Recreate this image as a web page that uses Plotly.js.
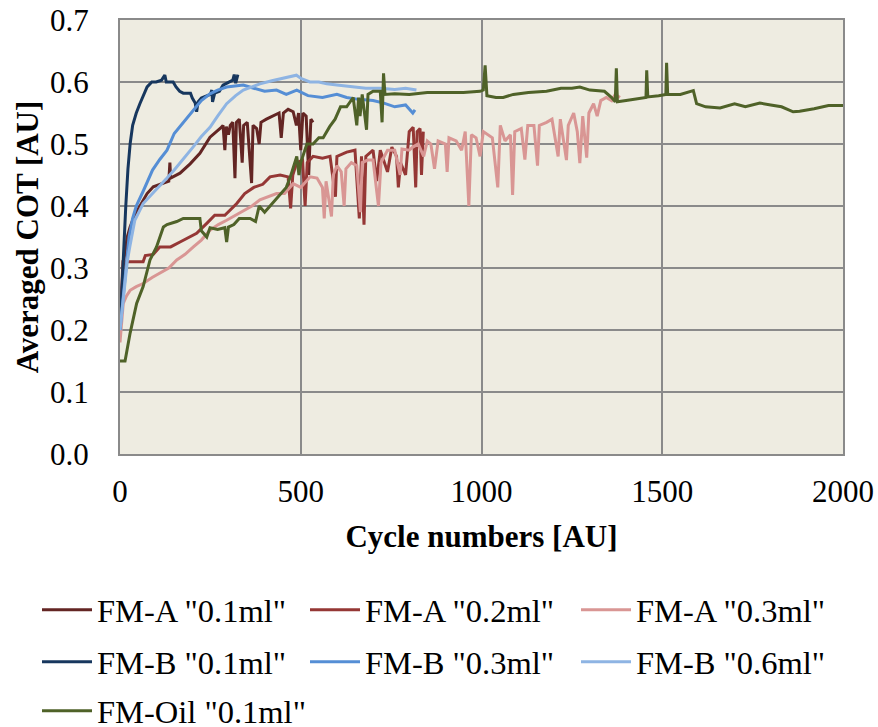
<!DOCTYPE html>
<html>
<head>
<meta charset="utf-8">
<script src="https://cdn.plot.ly/plotly-3.0.1.min.js"></script>
<style>html,body{margin:0;padding:0;background:#fff}#chart{width:878px;height:727px}</style>
</head>
<body>
<div id="chart"></div>
<script>
// ---- data ----
const seriesNames = ['FM-A "0.1ml"', 'FM-A "0.2ml"', 'FM-A "0.3ml"', 'FM-B "0.1ml"', 'FM-B "0.3ml"', 'FM-B "0.6ml"', 'FM-Oil "0.1ml"'];

const fmA01_x = [0,5,10,20,28,40,55,75,92,120,135,138,140,166,180,194,221,249,277,285,290,294,300,305,312,318,322,330,338,342,352,364,368,378,385,390,405,424,440,446,452,465,479,488,494,500,506,515,522,528,534];
const fmA01_y = [0.20,0.26,0.31,0.35,0.366,0.385,0.40,0.42,0.431,0.437,0.44,0.47,0.445,0.453,0.46,0.468,0.485,0.511,0.525,0.53,0.49,0.528,0.515,0.53,0.535,0.445,0.535,0.54,0.47,0.53,0.535,0.437,0.53,0.525,0.50,0.535,0.54,0.545,0.55,0.51,0.55,0.556,0.552,0.53,0.55,0.49,0.55,0.545,0.45,0.54,0.535];

const fmA02_x = [0,8,28,64,70,92,110,140,166,194,212,240,262,290,323,345,370,395,415,443,465,472,478,489,505,512,518,534,560,581,596,600,627,650,662,668,675,680,700,710,720,740,752,765,770,776,790,800,811,818,822,830,834,839];
const fmA02_y = [0.20,0.31,0.31,0.31,0.32,0.322,0.334,0.334,0.342,0.35,0.356,0.372,0.385,0.385,0.404,0.42,0.43,0.435,0.447,0.45,0.447,0.396,0.45,0.47,0.474,0.40,0.47,0.48,0.477,0.48,0.415,0.48,0.487,0.49,0.38,0.48,0.37,0.48,0.49,0.44,0.49,0.455,0.495,0.48,0.43,0.47,0.45,0.52,0.527,0.43,0.52,0.525,0.45,0.52];

const fmA03_x = [0,5,9,18,28,45,64,90,110,135,157,180,203,225,249,272,295,320,341,365,387,410,433,455,479,500,526,545,560,565,570,585,590,600,612,620,625,640,655,665,670,685,700,715,722,740,760,775,780,800,810,825,840,850,860,870,880,900,905,910,930,945,955,965,972,985,996,1005,1030,1045,1052,1065,1080,1086,1092,1110,1120,1128,1145,1155,1160,1180,1195,1212,1218,1235,1240,1255,1265,1272,1280,1291,1297,1310,1320,1330,1345,1360,1370,1383];
const fmA03_y = [0.18,0.22,0.243,0.255,0.264,0.27,0.275,0.285,0.292,0.30,0.313,0.322,0.334,0.345,0.361,0.37,0.377,0.385,0.393,0.40,0.41,0.415,0.42,0.42,0.436,0.43,0.447,0.445,0.43,0.38,0.44,0.383,0.45,0.465,0.455,0.40,0.46,0.47,0.465,0.39,0.47,0.474,0.474,0.40,0.47,0.49,0.49,0.45,0.492,0.49,0.495,0.50,0.48,0.505,0.50,0.46,0.505,0.50,0.455,0.51,0.505,0.49,0.52,0.40,0.515,0.51,0.48,0.52,0.51,0.43,0.53,0.505,0.515,0.418,0.52,0.525,0.475,0.53,0.53,0.465,0.53,0.535,0.54,0.48,0.54,0.474,0.53,0.55,0.52,0.469,0.545,0.478,0.55,0.565,0.545,0.57,0.575,0.57,0.58,0.575];

const fmB01_x = [0,5,10,16,22,28,35,45,55,65,75,88,100,115,124,128,147,155,165,175,195,200,208,212,216,225,240,250,254,256,262,275,285,295,305,312,316,320,326];
const fmB01_y = [0.20,0.27,0.34,0.40,0.46,0.50,0.53,0.55,0.565,0.58,0.592,0.600,0.600,0.603,0.611,0.600,0.600,0.592,0.585,0.582,0.582,0.574,0.566,0.552,0.568,0.574,0.577,0.580,0.587,0.568,0.582,0.585,0.595,0.598,0.600,0.603,0.612,0.598,0.612];

const fmB03_x = [0,8,15,25,35,45,65,90,110,130,150,175,202,225,249,270,295,341,370,400,433,460,489,520,560,600,627,660,700,730,760,790,810,816];
const fmB03_y = [0.20,0.25,0.30,0.35,0.38,0.40,0.425,0.458,0.475,0.490,0.517,0.535,0.554,0.570,0.581,0.587,0.592,0.595,0.590,0.585,0.587,0.580,0.587,0.578,0.575,0.580,0.575,0.572,0.570,0.566,0.560,0.563,0.550,0.555];

const fmB06_x = [0,10,20,27,41,64,90,110,130,150,175,202,225,249,270,295,320,341,365,387,420,442,470,488,500,525,550,572,600,640,680,720,760,790,820];
const fmB06_y = [0.20,0.26,0.31,0.334,0.377,0.404,0.42,0.431,0.445,0.458,0.475,0.495,0.512,0.527,0.545,0.565,0.578,0.587,0.592,0.597,0.602,0.605,0.608,0.611,0.606,0.600,0.600,0.597,0.595,0.593,0.590,0.590,0.588,0.590,0.587];

const fmOil_x = [0,14,28,46,64,83,101,120,130,157,175,200,221,225,240,249,270,290,295,300,315,330,360,375,385,400,415,430,443,460,470,489,495,500,517,534,550,562,580,595,610,627,645,655,660,664,670,682,686,700,720,725,729,733,760,800,850,900,950,996,1005,1010,1015,1040,1060,1088,1130,1180,1220,1250,1272,1300,1340,1360,1370,1373,1376,1400,1430,1455,1457,1460,1490,1510,1512,1515,1550,1586,1595,1620,1660,1700,1730,1770,1800,1830,1862,1880,1920,1960,2000];
const fmOil_y = [0.15,0.15,0.195,0.243,0.27,0.313,0.334,0.366,0.37,0.375,0.38,0.38,0.38,0.36,0.35,0.365,0.362,0.365,0.342,0.366,0.37,0.38,0.38,0.375,0.40,0.39,0.40,0.41,0.42,0.43,0.445,0.48,0.45,0.47,0.50,0.50,0.51,0.51,0.528,0.54,0.56,0.56,0.575,0.53,0.575,0.545,0.58,0.523,0.58,0.585,0.585,0.535,0.614,0.58,0.581,0.580,0.583,0.583,0.583,0.585,0.587,0.627,0.578,0.575,0.575,0.58,0.583,0.585,0.59,0.59,0.592,0.587,0.585,0.575,0.568,0.622,0.568,0.57,0.573,0.575,0.619,0.576,0.578,0.58,0.631,0.58,0.58,0.586,0.565,0.56,0.558,0.565,0.56,0.566,0.563,0.56,0.552,0.553,0.557,0.562,0.562];

const xTicks = [0, 500, 1000, 1500, 2000];
const yTicks = [0.0, 0.1, 0.2, 0.3, 0.4, 0.5, 0.6, 0.7];

// ---- styling ----
const colors = ['#632523', '#953735', '#D99694', '#17375E', '#558ED5', '#8EB4E3', '#4F6228'];
const xs = [fmA01_x, fmA02_x, fmA03_x, fmB01_x, fmB03_x, fmB06_x, fmOil_x];
const ys = [fmA01_y, fmA02_y, fmA03_y, fmB01_y, fmB03_y, fmB06_y, fmOil_y];

// legend grid: 3 columns, 3 rows (pixel positions of line start / row centre)
const legCols = [37, 305, 576];
const legRows = [610, 662, 711];

const FONT = '"Liberation Serif", "Times New Roman", Times, serif';
const legendKey = i => (i === 0 ? 'legend' : 'legend' + (i + 1));

const traces = seriesNames.map((n, i) => ({
  type: 'scatter', mode: 'lines', name: n,
  x: xs[i], y: ys[i],
  line: {color: colors[i], width: 3},
  legend: legendKey(i)
}));

const gridC = '#8a8a8a';
const layout = {
  width: 878, height: 727,
  margin: {l: 120, r: 35, t: 20, b: 273, pad: 0},
  paper_bgcolor: '#ffffff', plot_bgcolor: '#EEECE1',
  font: {family: FONT, size: 31, color: '#000'},
  showlegend: true,
  xaxis: {
    range: [0, 2000], tickvals: xTicks, ticktext: xTicks.map(v => String(v)),
    showgrid: true, gridcolor: gridC, gridwidth: 2,
    showline: true, linecolor: gridC, linewidth: 2, mirror: true,
    zeroline: false, ticks: '', ticklabelstandoff: 9,
    tickfont: {family: FONT, size: 31, color: '#000'},
    title: {text: '<b>Cycle numbers [AU]</b>', font: {family: FONT, size: 31, color: '#000'}, standoff: 17},
    automargin: false, fixedrange: true
  },
  yaxis: {
    range: [0, 0.7], tickvals: yTicks, ticktext: yTicks.map(v => v.toFixed(1)),
    showgrid: true, gridcolor: gridC, gridwidth: 2,
    showline: true, linecolor: gridC, linewidth: 2, mirror: true,
    zeroline: false, ticks: '', ticklabelstandoff: 23,
    tickfont: {family: FONT, size: 31, color: '#000'},
    title: {text: '<b>Averaged COT [AU]</b>', font: {family: FONT, size: 31, color: '#000'}, standoff: 2},
    automargin: false, fixedrange: true
  }
};

seriesNames.forEach((n, i) => {
  layout[legendKey(i)] = {
    orientation: 'h', xref: 'container', yref: 'container',
    x: legCols[i % 3] / 878, xanchor: 'left',
    y: 1 - legRows[Math.floor(i / 3)] / 727, yanchor: 'middle',
    itemwidth: 50,
    font: {family: FONT, size: 32.5, color: '#000'},
    bgcolor: 'rgba(0,0,0,0)', borderwidth: 0, itemclick: false
  };
});

Plotly.newPlot('chart', traces, layout, {displayModeBar: false, staticPlot: true});
</script>
</body>
</html>
